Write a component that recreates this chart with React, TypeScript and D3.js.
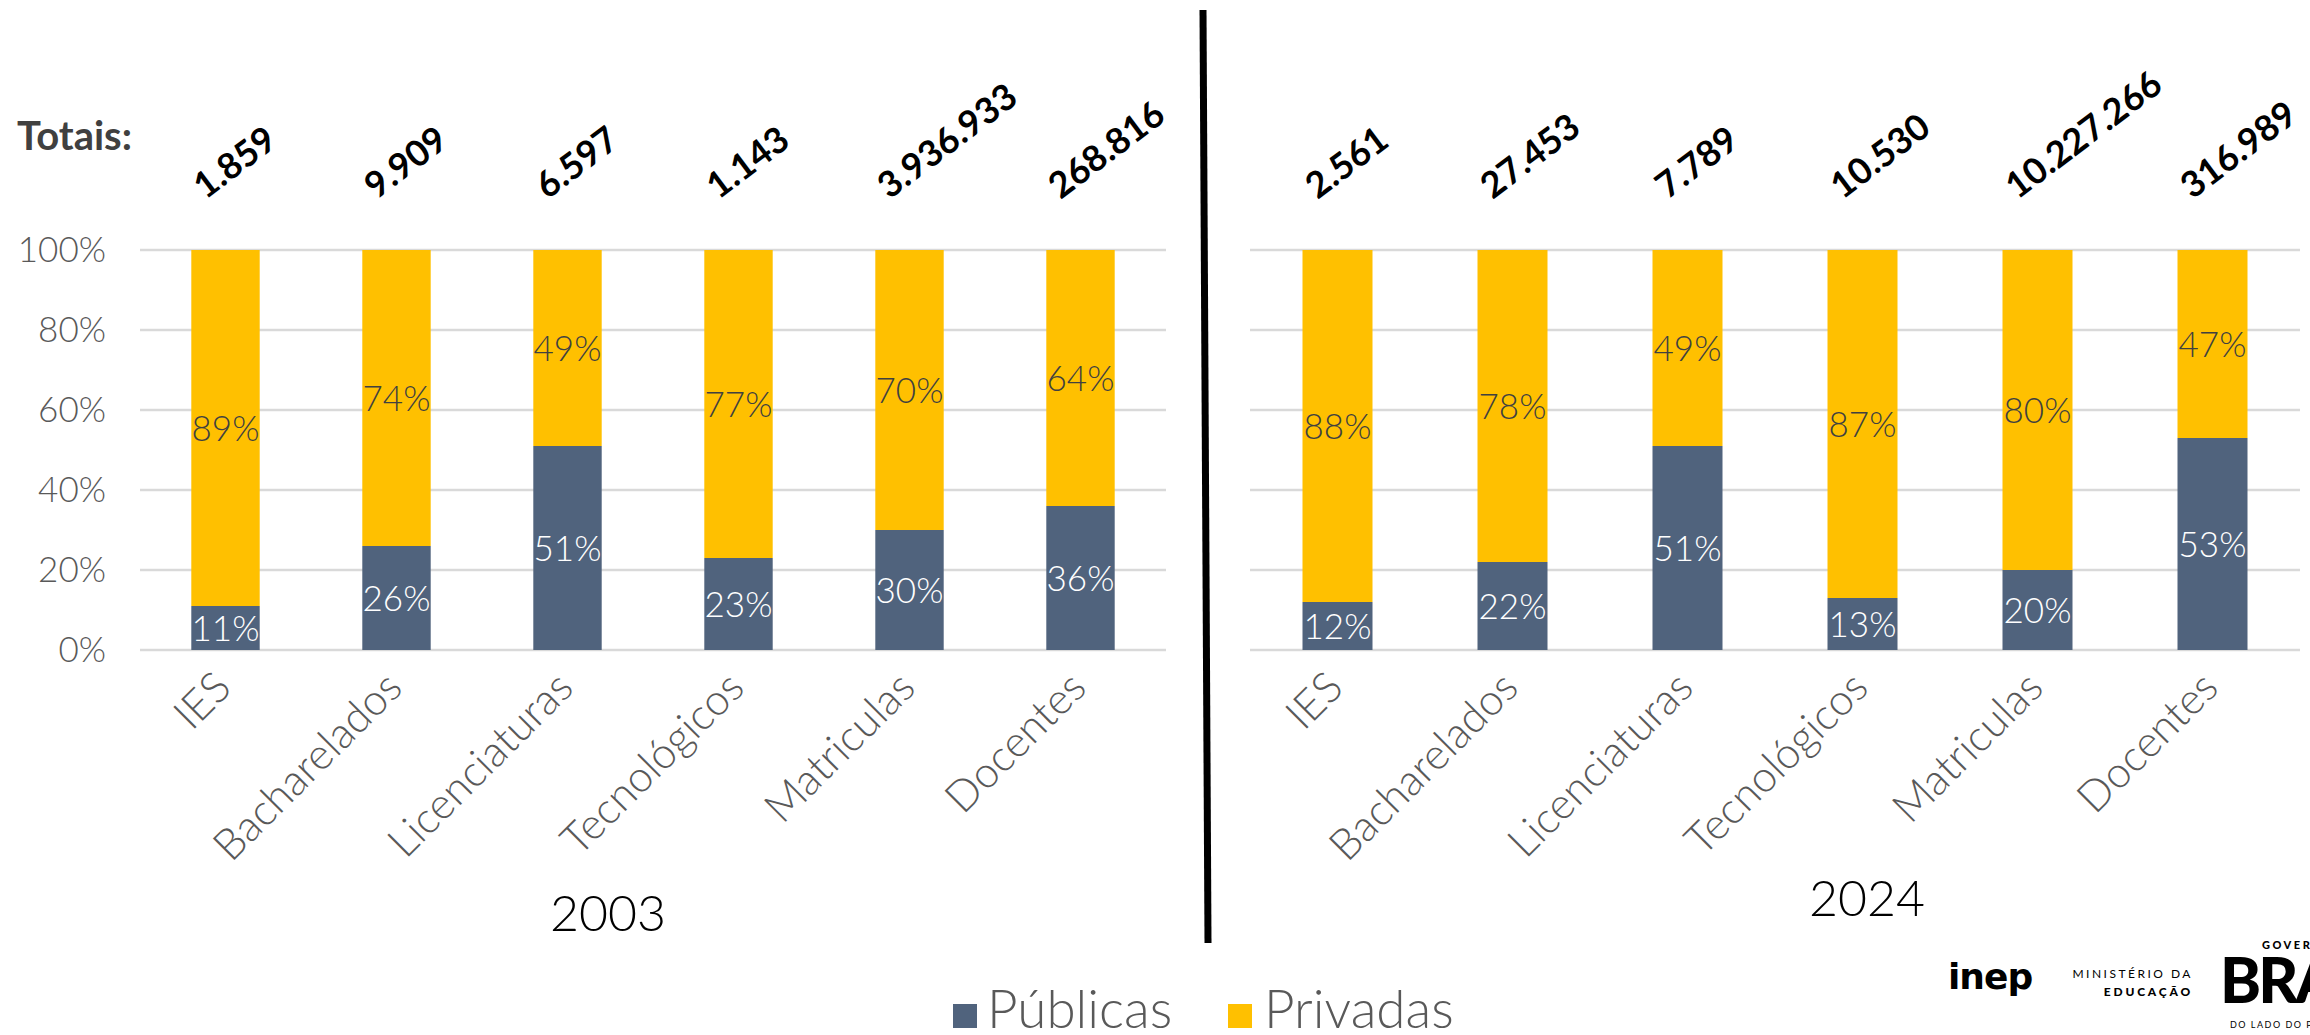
import React from "react";
import * as d3 from "d3";

const categories = ["IES", "Bacharelados", "Licenciaturas", "Tecnológicos", "Matriculas", "Docentes"];
const publicas2003 = [11, 26, 51, 23, 30, 36];
const privadas2003 = [89, 74, 49, 77, 70, 64];
const publicas2024 = [12, 22, 51, 13, 20, 53];
const privadas2024 = [88, 78, 49, 87, 80, 47];
const totals2003 = ["1.859", "9.909", "6.597", "1.143", "3.936.933", "268.816"];
const totals2024 = ["2.561", "27.453", "7.789", "10.530", "10.227.266", "316.989"];
const yTicks = [0, 20, 40, 60, 80, 100];
const seriesNames = ["Públicas", "Privadas"];

const W = 2310;
const H = 1035;
const C_PUB = "#50637D";
const C_PRIV = "#FFC000";
const GRID = "#D9D9D9";
const FONT = "Lato, 'Open Sans', sans-serif";

type PanelProps = {
  x0: number;
  x1: number;
  pub: number[];
  priv: number[];
  totals: string[];
  year: string;
  yearX: number;
  yearY: number;
  showAxis: boolean;
};

const y = d3.scaleLinear().domain([0, 100]).range([650, 250]);

function Panel({ x0, x1, pub, priv, totals, year, yearX, yearY, showAxis }: PanelProps) {
  const x = d3.scaleBand<string>().domain(categories).range([x0, x1]).paddingInner(0.6).paddingOuter(0.3);
  const rows = categories.map((c, i) => ({ cat: c, pub: pub[i], priv: priv[i] }));
  const stack = d3.stack<any>().keys(["pub", "priv"])(rows);
  const bw = x.bandwidth();
  return (
    <g>
      {yTicks.map((t) => (
        <line key={"g" + t} x1={x0} x2={x1} y1={y(t)} y2={y(t)} stroke={GRID} strokeWidth={2.5} />
      ))}
      {showAxis &&
        yTicks.map((t) => (
          <text
            key={"yl" + t}
            x={106}
            y={y(t)}
            dy="0.35em"
            textAnchor="end"
            fontFamily={FONT}
            fontWeight={300}
            fontSize={35}
            fill="#595959"
          >
            {t + "%"}
          </text>
        ))}
      {stack.map((s, si) =>
        s.map((d, i) => {
          const cx = x(categories[i])!;
          const top = y(d[1]);
          const bot = y(d[0]);
          const val = si === 0 ? pub[i] : priv[i];
          return (
            <g key={si + "-" + i}>
              <rect x={cx} y={top} width={bw} height={bot - top} fill={si === 0 ? C_PUB : C_PRIV} />
              <text
                x={cx + bw / 2}
                y={(top + bot) / 2}
                dy="0.36em"
                textAnchor="middle"
                fontFamily={FONT}
                fontWeight={300}
                fontSize={35}
                fill={si === 0 ? "#FFFFFF" : "#404040"}
              >
                {val + "%"}
              </text>
            </g>
          );
        })
      )}
      {categories.map((c) => {
        const cx = x(c)! + bw / 2;
        return (
          <text
            key={"cl" + c}
            transform={`translate(${cx + 8},${690}) rotate(-45)`}
            textAnchor="end"
            fontFamily={FONT}
            fontWeight={300}
            fontSize={43}
            fill="#595959"
          >
            {c}
          </text>
        );
      })}
      {totals.map((t, i) => {
        const cx = x(categories[i])! + bw / 2;
        return (
          <text
            key={"t" + i}
            transform={`translate(${cx - 20},${200}) rotate(-37)`}
            textAnchor="start"
            fontFamily={FONT}
            fontWeight={700}
            fontSize={36}
            fill="#000000"
          >
            {t}
          </text>
        );
      })}
      <text x={yearX} y={yearY} textAnchor="middle" fontFamily={FONT} fontWeight={300} fontSize={50} fill="#000000">
        {year}
      </text>
    </g>
  );
}

export default function App() {
  const legendItems = [
    { name: seriesNames[0], color: C_PUB, sx: 953, tx: 987 },
    { name: seriesNames[1], color: C_PRIV, sx: 1228, tx: 1264 },
  ];
  return (
    <svg
      width={W}
      height={H}
      viewBox={`0 0 ${W} ${H}`}
      style={{ position: "absolute", left: 0, top: 0, background: "#fff" }}
    >
      <rect width={W} height={H} fill="#fff" />
      <text x={17} y={150} fontFamily={FONT} fontWeight={700} fontSize={40} fill="#404040">
        Totais:
      </text>
      <Panel
        x0={140}
        x1={1166}
        pub={publicas2003}
        priv={privadas2003}
        totals={totals2003}
        year="2003"
        yearX={608}
        yearY={931}
        showAxis={true}
      />
      <Panel
        x0={1250}
        x1={2300}
        pub={publicas2024}
        priv={privadas2024}
        totals={totals2024}
        year="2024"
        yearX={1867}
        yearY={916}
        showAxis={false}
      />
      <line x1={1203} y1={10} x2={1208} y2={943} stroke="#000" strokeWidth={7} />
      {legendItems.map((l) => (
        <g key={l.name}>
          <rect x={l.sx} y={1004} width={24} height={24} fill={l.color} />
          <text x={l.tx} y={1028} fontFamily={FONT} fontWeight={300} fontSize={53} fill="#595959">
            {l.name}
          </text>
        </g>
      ))}
      <text x={1948} y={989} fontFamily="'DejaVu Sans', sans-serif" fontWeight={900} fontSize={36} fill="#000" letterSpacing={-1}>
        inep
      </text>
      <text x={2193} y={978} textAnchor="end" fontFamily={FONT} fontWeight={400} fontSize={12} letterSpacing={2.5} fill="#000">
        MINISTÉRIO DA
      </text>
      <text x={2193} y={996} textAnchor="end" fontFamily={FONT} fontWeight={900} fontSize={12} letterSpacing={2.8} fill="#000">
        EDUCAÇÃO
      </text>
      <text x={2262} y={949} fontFamily={FONT} fontWeight={900} fontSize={11} letterSpacing={2.5} fill="#000">
        GOVERNO
      </text>
      <text x={2220} y={1003} fontFamily={FONT} fontWeight={900} fontSize={62} fill="#000" letterSpacing={-3}>
        BRASIL
      </text>
      <text x={2230} y={1028} fontFamily={FONT} fontWeight={400} fontSize={9} letterSpacing={1.5} fill="#000">
        DO LADO DO POVO
      </text>
    </svg>
  );
}
